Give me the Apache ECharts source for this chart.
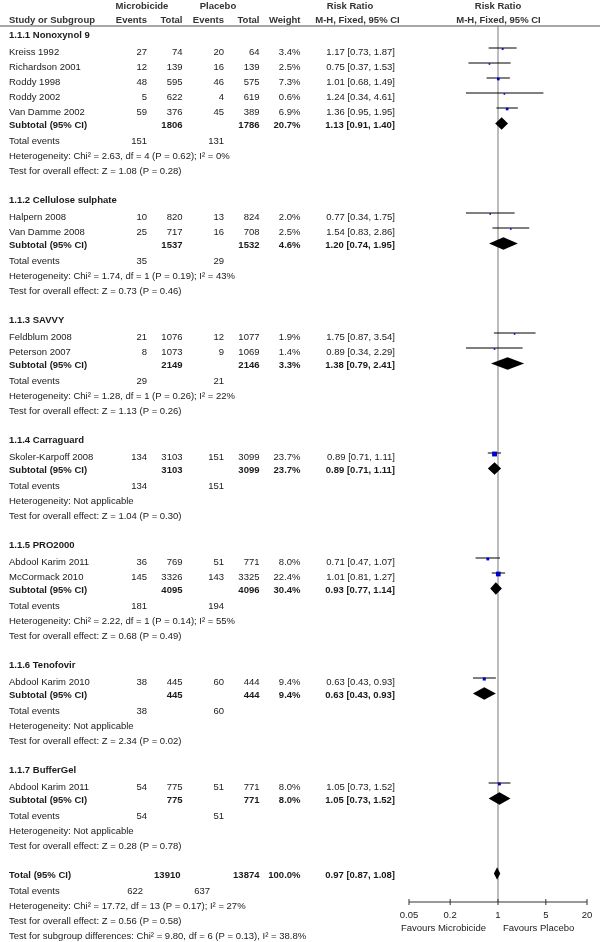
<!DOCTYPE html>
<html>
<head>
<meta charset="utf-8">
<script src="https://cdn.jsdelivr.net/npm/echarts@6/dist/echarts.min.js"></script>
<style>
html, body { margin: 0; padding: 0; background: #fff; }
#chart { width: 600px; height: 942px; }
</style>
</head>
<body>
<div id="chart"></div>
<script>
// ---- data ----
const groupNames = ['1.1.1 Nonoxynol 9', '1.1.2 Cellulose sulphate', '1.1.3 SAVVY', '1.1.4 Carraguard',
	'1.1.5 PRO2000', '1.1.6 Tenofovir', '1.1.7 BufferGel'];

const studyNames = ['Kreiss 1992', 'Richardson 2001', 'Roddy 1998', 'Roddy 2002', 'Van Damme 2002',
	'Halpern 2008', 'Van Damme 2008', 'Feldblum 2008', 'Peterson 2007', 'Skoler-Karpoff 2008',
	'Abdool Karim 2011', 'McCormack 2010', 'Abdool Karim 2010', 'Abdool Karim 2011'];
const studyGroup = [0, 0, 0, 0, 0, 1, 1, 2, 2, 3, 4, 4, 5, 6];
const studyEventsA = [27, 12, 48, 5, 59, 10, 25, 21, 8, 134, 36, 145, 38, 54];
const studyTotalA = [74, 139, 595, 622, 376, 820, 717, 1076, 1073, 3103, 769, 3326, 445, 775];
const studyEventsB = [20, 16, 46, 4, 45, 13, 16, 12, 9, 151, 51, 143, 60, 51];
const studyTotalB = [64, 139, 575, 619, 389, 824, 708, 1077, 1069, 3099, 771, 3325, 444, 771];
const studyWeight = [3.4, 2.5, 7.3, 0.6, 6.9, 2.0, 2.5, 1.9, 1.4, 23.7, 8.0, 22.4, 9.4, 8.0];
const studyRR = [1.17, 0.75, 1.01, 1.24, 1.36, 0.77, 1.54, 1.75, 0.89, 0.89, 0.71, 1.01, 0.63, 1.05];
const studyLow = [0.73, 0.37, 0.68, 0.34, 0.95, 0.34, 0.83, 0.87, 0.34, 0.71, 0.47, 0.81, 0.43, 0.73];
const studyHigh = [1.87, 1.53, 1.49, 4.61, 1.95, 1.75, 2.86, 3.54, 2.29, 1.11, 1.07, 1.27, 0.93, 1.52];

const subTotalA = [1806, 1537, 2149, 3103, 4095, 445, 775];
const subTotalB = [1786, 1532, 2146, 3099, 4096, 444, 771];
const subWeight = [20.7, 4.6, 3.3, 23.7, 30.4, 9.4, 8.0];
const subRR = [1.13, 1.20, 1.38, 0.89, 0.93, 0.63, 1.05];
const subLow = [0.91, 0.74, 0.79, 0.71, 0.77, 0.43, 0.73];
const subHigh = [1.40, 1.95, 2.41, 1.11, 1.14, 0.93, 1.52];
const subEventsA = [151, 35, 29, 134, 181, 38, 54];
const subEventsB = [131, 29, 21, 151, 194, 60, 51];
const subHet = [
	'Heterogeneity: Chi\u00b2 = 2.63, df = 4 (P = 0.62); I\u00b2 = 0%',
	'Heterogeneity: Chi\u00b2 = 1.74, df = 1 (P = 0.19); I\u00b2 = 43%',
	'Heterogeneity: Chi\u00b2 = 1.28, df = 1 (P = 0.26); I\u00b2 = 22%',
	'Heterogeneity: Not applicable',
	'Heterogeneity: Chi\u00b2 = 2.22, df = 1 (P = 0.14); I\u00b2 = 55%',
	'Heterogeneity: Not applicable',
	'Heterogeneity: Not applicable'];
const subTest = [
	'Test for overall effect: Z = 1.08 (P = 0.28)',
	'Test for overall effect: Z = 0.73 (P = 0.46)',
	'Test for overall effect: Z = 1.13 (P = 0.26)',
	'Test for overall effect: Z = 1.04 (P = 0.30)',
	'Test for overall effect: Z = 0.68 (P = 0.49)',
	'Test for overall effect: Z = 2.34 (P = 0.02)',
	'Test for overall effect: Z = 0.28 (P = 0.78)'];

const overallTotals = [13910, 13874];
const overallWeight = [100.0];
const overallEffect = [0.97, 0.87, 1.08];
const overallEvents = [622, 637];
const overallNotes = [
	'Heterogeneity: Chi\u00b2 = 17.72, df = 13 (P = 0.17); I\u00b2 = 27%',
	'Test for overall effect: Z = 0.56 (P = 0.58)',
	'Test for subgroup differences: Chi\u00b2 = 9.80, df = 6 (P = 0.13), I\u00b2 = 38.8%'];

const tickValues = [0.05, 0.2, 1, 5, 20];
const tickLabels = ['0.05', '0.2', '1', '5', '20'];

// ---- layout ----
const FONT = '9.5px "Liberation Sans", Arial, Helvetica, sans-serif';
const BOLD = 'bold ' + FONT;
const INK = '#1a1a1a';
const COL = { label: 9, ea: 147, ta: 182.5, eb: 224, tb: 259.5, w: 300.5, rr: 395 };
const HEAD_LINE_Y = 26;
const AXIS_Y = 902;

// row positions (vertical units = grid pixels)
const rows = [];
let y = 35;
groupNames.forEach((g, gi) => {
	if (gi > 0) y += 28.5;
	rows.push({ kind: 'group', y, label: g });
	let first = true;
	studyNames.forEach((s, si) => {
		if (studyGroup[si] !== gi) return;
		y += first ? 17 : 15;
		first = false;
		rows.push({ kind: 'study', y, i: si });
	});
	y += 13; rows.push({ kind: 'sub', y, i: gi });
	y += 16.5; rows.push({ kind: 'events', y, a: subEventsA[gi], b: subEventsB[gi] });
	y += 15; rows.push({ kind: 'note', y, text: subHet[gi] });
	y += 15; rows.push({ kind: 'note', y, text: subTest[gi] });
});
y += 28.5; rows.push({ kind: 'total', y });
y += 16.5; rows.push({ kind: 'events', y, a: overallEvents[0], b: overallEvents[1], overall: true });
overallNotes.forEach((t) => { y += 15; rows.push({ kind: 'note', y, text: t }); });

const fmtW = (w) => w.toFixed(1) + '%';
const fmtCI = (m, lo, hi) => m.toFixed(2) + ' [' + lo.toFixed(2) + ', ' + hi.toFixed(2) + ']';

function txt(x, py, s, align, bold) {
	return {
		type: 'text',
		x: x,
		y: py,
		style: {
			text: s,
			fill: INK,
			font: bold ? BOLD : FONT,
			align: align || 'left',
			verticalAlign: 'middle',
		},
	};
}

function renderTable(params, api) {
	const r = rows[params.dataIndex];
	const py = api.coord([1, api.value(1)])[1];
	const c = [];
	if (r.kind === 'group') {
		c.push(txt(COL.label, py, r.label, 'left', true));
	} else if (r.kind === 'study') {
		const i = r.i;
		c.push(txt(COL.label, py, studyNames[i]));
		c.push(txt(COL.ea, py, String(studyEventsA[i]), 'right'));
		c.push(txt(COL.ta, py, String(studyTotalA[i]), 'right'));
		c.push(txt(COL.eb, py, String(studyEventsB[i]), 'right'));
		c.push(txt(COL.tb, py, String(studyTotalB[i]), 'right'));
		c.push(txt(COL.w, py, fmtW(studyWeight[i]), 'right'));
		c.push(txt(COL.rr, py, fmtCI(studyRR[i], studyLow[i], studyHigh[i]), 'right'));
	} else if (r.kind === 'sub') {
		const i = r.i;
		c.push(txt(COL.label, py, 'Subtotal (95% CI)', 'left', true));
		c.push(txt(COL.ta, py, String(subTotalA[i]), 'right', true));
		c.push(txt(COL.tb, py, String(subTotalB[i]), 'right', true));
		c.push(txt(COL.w, py, fmtW(subWeight[i]), 'right', true));
		c.push(txt(COL.rr, py, fmtCI(subRR[i], subLow[i], subHigh[i]), 'right', true));
	} else if (r.kind === 'events') {
		c.push(txt(COL.label, py, 'Total events'));
		c.push(txt(r.overall ? 143 : COL.ea, py, String(r.a), 'right'));
		c.push(txt(r.overall ? 210 : COL.eb, py, String(r.b), 'right'));
	} else if (r.kind === 'note') {
		c.push(txt(COL.label, py, r.text));
	} else if (r.kind === 'total') {
		c.push(txt(COL.label, py, 'Total (95% CI)', 'left', true));
		c.push(txt(COL.ta - 2, py, String(overallTotals[0]), 'right', true));
		c.push(txt(COL.tb, py, String(overallTotals[1]), 'right', true));
		c.push(txt(COL.w, py, fmtW(overallWeight[0]), 'right', true));
		c.push(txt(COL.rr, py, fmtCI(overallEffect[0], overallEffect[1], overallEffect[2]), 'right', true));
	}
	return { type: 'group', children: c };
}

// study estimate: CI whisker + weighted square
function renderStudy(params, api) {
	const yv = api.value(1);
	const lo = api.coord([api.value(2), yv]);
	const hi = api.coord([api.value(3), yv]);
	const mid = api.coord([api.value(0), yv]);
	const side = Math.max(1.6, Math.sqrt(api.value(4)));
	return {
		type: 'group',
		children: [
			{ type: 'line', shape: { x1: lo[0], y1: lo[1] - 4, x2: hi[0], y2: hi[1] - 4 },
				style: { stroke: '#000', lineWidth: 1 } },
			{ type: 'rect', shape: { x: mid[0] - side / 2, y: mid[1] - 3 - side / 2, width: side, height: side },
				style: { fill: '#0000cc' } },
		],
	};
}

// pooled estimate diamond
function renderDiamond(params, api) {
	const yv = api.value(1);
	const lo = api.coord([api.value(2), yv]);
	const hi = api.coord([api.value(3), yv]);
	const mid = api.coord([api.value(0), yv]);
	const cy = mid[1] - 1.5;
	return {
		type: 'polygon',
		shape: { points: [[lo[0], cy], [mid[0], cy - 6.2], [hi[0], cy], [mid[0], cy + 6.2]] },
		style: { fill: '#000' },
	};
}

function renderTick(params, api) {
	const p = api.coord([api.value(0), api.value(1)]);
	return {
		type: 'group',
		children: [
			{ type: 'line', shape: { x1: p[0], y1: p[1] - 3, x2: p[0], y2: p[1] + 3 },
				style: { stroke: '#333', lineWidth: 1 } },
			txt(p[0], p[1] + 13, tickLabels[params.dataIndex], 'center'),
		],
	};
}

function renderFavours(params, api) {
	const p = api.coord([api.value(0), api.value(1)]);
	return {
		type: 'group',
		children: [
			txt(p[0] - 12, p[1] + 26, 'Favours Microbicide', 'right'),
			txt(p[0] + 5, p[1] + 26, 'Favours Placebo', 'left'),
		],
	};
}

const studyRowY = rows.filter((r) => r.kind === 'study').map((r) => r.y);
const subRowY = rows.filter((r) => r.kind === 'sub').map((r) => r.y);
const totalRowY = rows.find((r) => r.kind === 'total').y;

const headerCells = [
	['Microbicide', 142, 6, 'center'],
	['Placebo', 218, 6, 'center'],
	['Risk Ratio', 350, 6, 'center'],
	['Risk Ratio', 498, 6, 'center'],
	['Study or Subgroup', COL.label, 20.5, 'left'],
	['Events', COL.ea, 20.5, 'right'],
	['Total', COL.ta, 20.5, 'right'],
	['Events', COL.eb, 20.5, 'right'],
	['Total', COL.tb, 20.5, 'right'],
	['Weight', COL.w, 20.5, 'right'],
	['M-H, Fixed, 95% CI', 357.5, 20.5, 'center'],
	['M-H, Fixed, 95% CI', 498.5, 20.5, 'center'],
];

const chart = echarts.init(document.getElementById('chart'), null, { renderer: 'canvas' });

const option = {
	animation: false,
	backgroundColor: '#fff',
	grid: { left: 409, right: 13, top: 0, bottom: 0 },
	xAxis: { type: 'log', logBase: 10, min: tickValues[0], max: tickValues[tickValues.length - 1], show: false },
	yAxis: { type: 'value', inverse: true, min: 0, max: 942, show: false },
	graphic: headerCells.map((h) => ({
		type: 'text', x: h[1], y: h[2], silent: true,
		style: { text: h[0], fill: '#333', font: BOLD, align: h[3], verticalAlign: 'middle' },
	})).concat([
		{ type: 'line', silent: true, shape: { x1: 0, y1: HEAD_LINE_Y, x2: 600, y2: HEAD_LINE_Y },
			style: { stroke: '#8a8a8a', lineWidth: 1.5 } },
	]),
	series: [
		{
			type: 'line', silent: true, symbol: 'none', z: 1,
			data: [[1, HEAD_LINE_Y], [1, AXIS_Y]],
			lineStyle: { color: '#7a7a7a', width: 1 },
		},
		{
			type: 'line', silent: true, symbol: 'none', z: 1,
			data: [[tickValues[0], AXIS_Y], [tickValues[tickValues.length - 1], AXIS_Y]],
			lineStyle: { color: '#333', width: 1 },
		},
		{
			type: 'custom', silent: true, z: 3,
			renderItem: renderTick,
			data: tickValues.map((v) => [v, AXIS_Y]),
		},
		{
			type: 'custom', silent: true, z: 3,
			renderItem: renderFavours,
			data: [[1, AXIS_Y]],
		},
		{
			type: 'custom', silent: true, z: 3,
			renderItem: renderTable,
			data: rows.map((r) => [1, r.y]),
		},
		{
			type: 'custom', silent: true, z: 4,
			renderItem: renderStudy,
			data: studyRR.map((v, i) => [v, studyRowY[i], studyLow[i], studyHigh[i], studyWeight[i]]),
		},
		{
			type: 'custom', silent: true, z: 4,
			renderItem: renderDiamond,
			data: subRR.map((v, i) => [v, subRowY[i], subLow[i], subHigh[i]])
				.concat([[overallEffect[0], totalRowY, overallEffect[1], overallEffect[2]]]),
		},
	],
};

chart.setOption(option);
</script>
</body>
</html>
